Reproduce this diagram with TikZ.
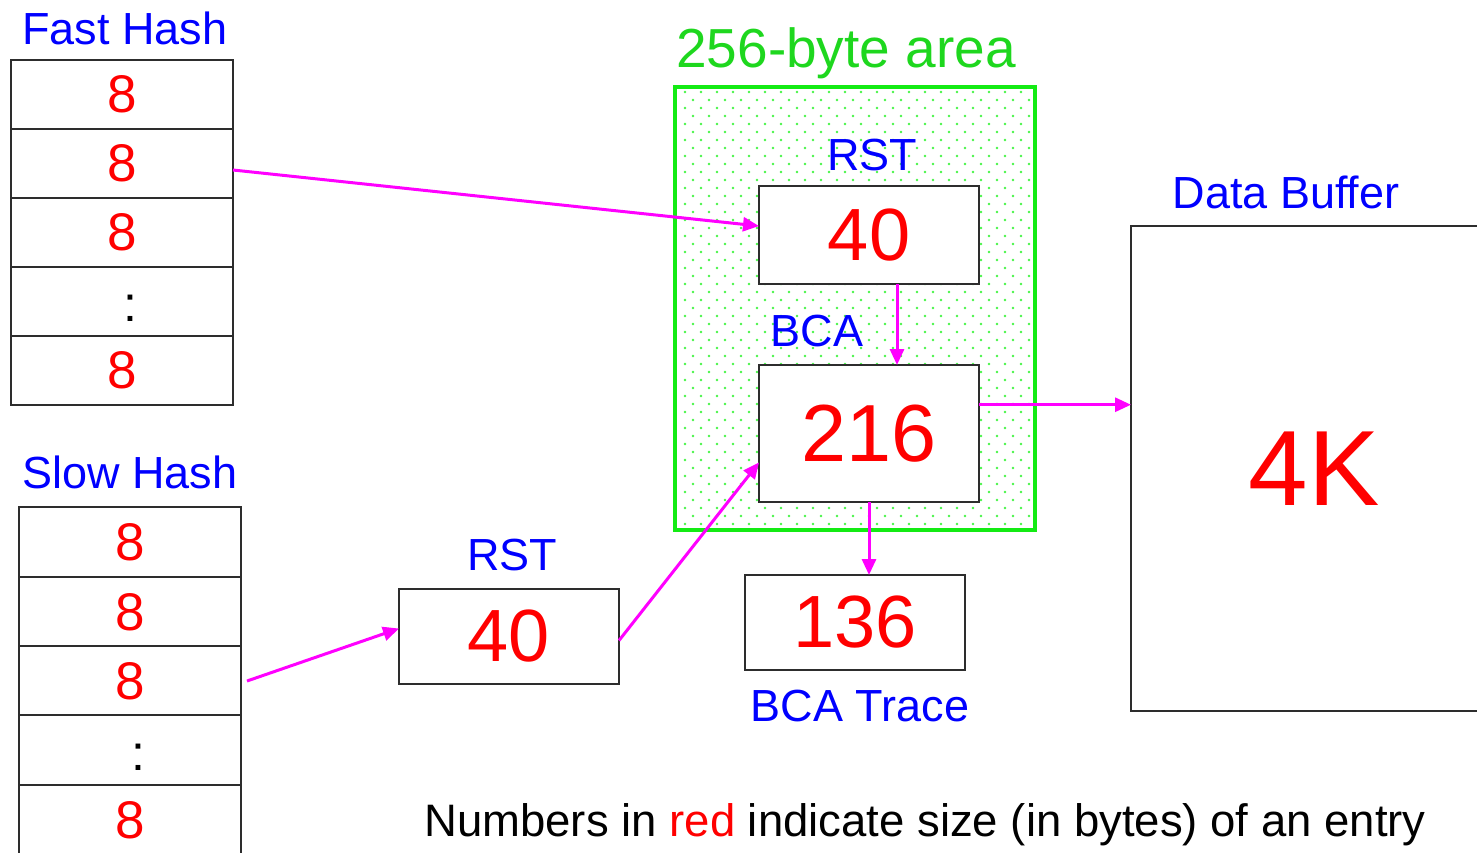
\documentclass[tikz,border=0pt]{standalone}
\usepackage{fontspec}
\setmainfont{Liberation Sans}
\usetikzlibrary{arrows.meta,calc}
\definecolor{lblblue}{RGB}{0,0,255}
\definecolor{numred}{RGB}{255,0,0}
\definecolor{linkmag}{RGB}{255,0,255}
\definecolor{areagreen}{RGB}{20,235,20}
\definecolor{areadot}{RGB}{70,245,70}
\definecolor{areatext}{RGB}{30,215,30}
\definecolor{edge}{RGB}{45,45,45}

\begin{document}
\begin{tikzpicture}[x=1pt,y=-1pt,
  cell/.style={draw=edge,line width=2pt,fill=white,minimum width=222pt,
    minimum height=69pt,inner sep=0pt,outer sep=0pt,text=numred,
    font=\fontsize{53}{60}\selectfont},
  entry/.style={draw=edge,line width=2pt,fill=white,minimum width=220pt,
    inner sep=0pt,outer sep=0pt,text=numred,font=\fontsize{74}{84}\selectfont},
  lbl/.style={text=lblblue,font=\fontsize{45}{54}\selectfont,anchor=base,inner sep=0pt},
  gap/.style={font=\fontsize{50}{60}\selectfont,inner sep=0pt},
  link/.style={draw=linkmag,line width=3pt,-{Triangle[length=16pt,width=14pt]}},
]
\useasboundingbox (0,0) rectangle (1477,852);
\clip (0,0) rectangle (1477,852);

% Fast hash table
\node[lbl] (fastlbl) at (125,44) {Fast Hash};
\node[cell] (f1) at (122,94)  {8};
\node[cell] (f2) at (122,163) {8};
\node[cell] (f3) at (122,232) {8};
\node[cell] (f4) at (122,301) {};
\node[cell] (f5) at (122,370) {8};
\node[gap] (fdots) at (130,308) {:};

% Slow hash table
\node[lbl] (slowlbl) at (130,488) {Slow Hash};
\begin{scope}[cell/.append style={minimum height=70pt}]
\node[cell] (s1) at (130,542) {8};
\node[cell] (s2) at (130,612) {8};
\node[cell] (s3) at (130,681) {8};
\node[cell] (s4) at (130,750) {};
\node[cell] (s5) at (130,820) {8};
\end{scope}
\node[gap] (sdots) at (138,757) {:};

% 256-byte area with dotted fill
\node[text=areatext,font=\fontsize{55}{64}\selectfont,anchor=base,inner sep=0pt]
  (arealbl) at (846,67) {256-byte area};
\fill[white] (675,87) rectangle (1035,530);
\foreach \r in {0,...,54}{
  \pgfmathsetmacro{\dy}{92+8*\r}
  \pgfmathsetmacro{\dx}{685+8*mod(\r,2)}
  \foreach \c in {0,...,21}{
    \fill[areadot] ({\dx+16*\c},\dy) circle[radius=1.3pt];
  }
}
\draw[areagreen,line width=4pt] (675,87) rectangle (1035,530);

% Entries inside the area
\node[lbl] (rstlbl1) at (872,170) {RST};
\node[entry,minimum height=98pt] (rst1) at (869,235) {40};
\node[lbl] (bcalbl) at (817,346) {BCA};
\node[entry,minimum height=137pt,font=\fontsize{81}{90}\selectfont] (bca) at (869,433.5) {216};

% Free-standing RST entry
\node[lbl] (rstlbl2) at (512,570) {RST};
\node[entry,minimum height=95pt] (rst2) at (509,636.5) {40};

% BCA trace
\node[entry,minimum height=95pt] (trace) at (855,622.5) {136};
\node[lbl] (tracelbl) at (860,721) {BCA Trace};

% Data buffer
\node[lbl] (buflbl) at (1286,208) {Data Buffer};
\node[draw=edge,line width=2pt,fill=white,minimum width=366pt,minimum height=485pt,
  inner sep=0pt,outer sep=0pt,text=numred,font=\fontsize{107}{120}\selectfont]
  (buf) at (1314,468.5) {4K};

% Links
\draw[link] ([yshift=-7pt]f2.east) -- ([yshift=9pt]rst1.west);
\draw[link] ([xshift=28pt]rst1.south) -- ([xshift=28pt]bca.north);
\draw[link] (bca.south) -- (bca.south |- trace.north);
\coordinate (bcaout) at ($(bca.north east)!0.29!(bca.south east)$);
\draw[link] (bcaout) -- (bcaout -| buf.west);
\draw[link] ([yshift=-4pt]rst2.east) -- ([yshift=-29pt]bca.west);
\draw[link] ([xshift=6pt]s3.east) -- ([yshift=8pt]rst2.west);

% Legend
\node[font=\fontsize{45.5}{54}\selectfont,anchor=base,inner sep=0pt] (legend) at (925,836)
  {Numbers in \textcolor{numred}{red} indicate size (in bytes) of an entry};
\end{tikzpicture}
\end{document}
